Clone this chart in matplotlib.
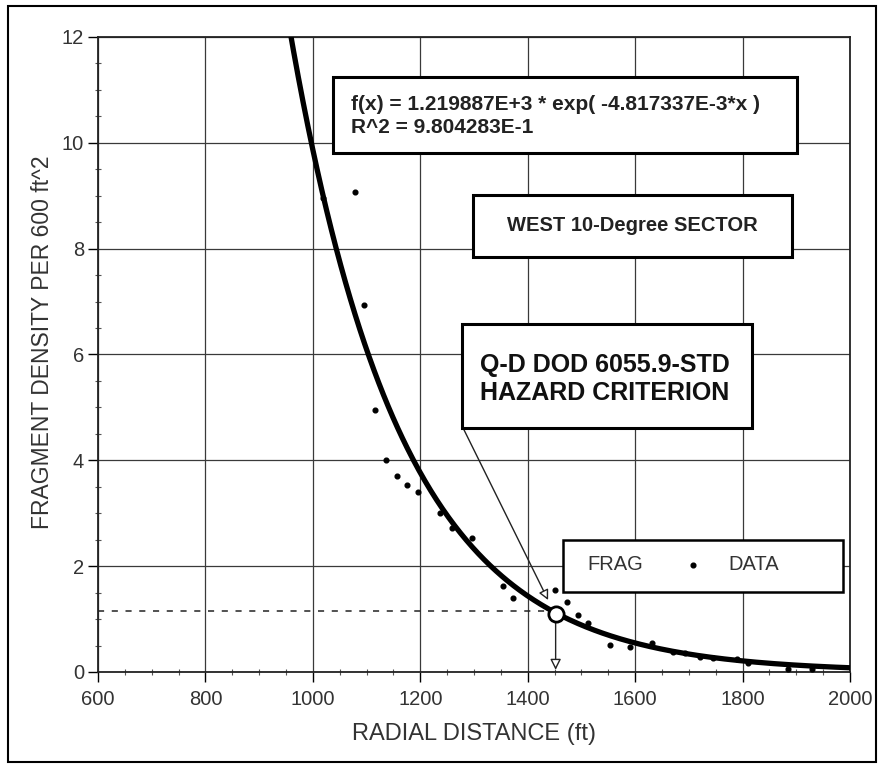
import numpy as np
import matplotlib
matplotlib.use("Agg")
import matplotlib.pyplot as plt
from matplotlib.patches import Rectangle

plt.rcParams['font.family'] = ['Liberation Sans', 'DejaVu Sans']

# ---- data ----
data_x = [1019, 1078, 1095, 1116, 1136, 1157, 1175, 1196, 1237, 1259, 1296,
          1354, 1373, 1451, 1473, 1494, 1512, 1553, 1590, 1631, 1671, 1693,
          1721, 1745, 1790, 1810, 1885, 1930]
data_y = [8.96, 9.07, 6.93, 4.95, 4.00, 3.70, 3.53, 3.40, 3.00, 2.72, 2.53,
          1.63, 1.40, 1.55, 1.32, 1.08, 0.93, 0.51, 0.47, 0.55, 0.38, 0.36,
          0.28, 0.26, 0.25, 0.17, 0.06, 0.05]

fit_a = 1.219887e3
fit_b = -4.817337e-3

hazard_x = 1452
hazard_y = 1.10
dash_y = 1.15

x_ticks = [600, 800, 1000, 1200, 1400, 1600, 1800, 2000]
y_ticks = [0, 2, 4, 6, 8, 10, 12]

fit_text = "f(x) = 1.219887E+3 * exp( -4.817337E-3*x )\nR^2 = 9.804283E-1"
sector_text = "WEST 10-Degree SECTOR"
hazard_text = "Q-D DOD 6055.9-STD\nHAZARD CRITERION"
legend_labels = ["FRAG", "DATA"]

# ---- figure ----
fig = plt.figure(figsize=(8.83, 7.70), dpi=100)
ax = fig.add_axes([0.111, 0.1273, 0.8516, 0.8247])

# figure border
fig.patches.append(Rectangle((0.009, 0.0104), 0.983, 0.9816, transform=fig.transFigure,
                             fill=False, ec='black', lw=1.5))

ax.set_xlim(600, 2000)
ax.set_ylim(0, 12)
ax.set_xticks(x_ticks)
ax.set_yticks(y_ticks)
ax.set_xticks(np.arange(600, 2001, 50), minor=True)
ax.set_yticks(np.arange(0, 12.01, 0.5), minor=True)
ax.grid(True, which='major', color='#3a3a3a', lw=0.9)
ax.tick_params(which='major', direction='out', length=7, width=1, labelsize=14.5,
               labelcolor='#333333')
ax.tick_params(axis='x', which='major', pad=6)
ax.tick_params(axis='y', which='major', pad=3)
ax.tick_params(which='minor', direction='inout', length=5, width=0.8, color='#555555')
for s in ax.spines.values():
    s.set_linewidth(1.3)
    s.set_color('#222222')

ax.set_xlabel("RADIAL DISTANCE (ft)", fontsize=17, color='#333333', labelpad=10)
ax.set_ylabel("FRAGMENT DENSITY PER 600 ft^2", fontsize=16.5, color='#333333')
ax.yaxis.set_label_coords(-0.058, 0.52)

# fitted curve
xc = np.linspace(900, 2000, 500)
ax.plot(xc, fit_a * np.exp(fit_b * xc), color='black', lw=3.8, zorder=4)

# data points
ax.plot(data_x, data_y, 'o', color='black', ms=3.4, ls='none', zorder=5)

# hazard criterion markers
ax.plot([600, hazard_x - 12], [dash_y, dash_y], color='#222222', lw=1.1,
        ls=(0, (4, 5)), zorder=3)
ax.annotate("", xy=(hazard_x, 0.04), xytext=(hazard_x, hazard_y),
            arrowprops=dict(arrowstyle='-|>', fc='white', ec='#222222', lw=1,
                            mutation_scale=16, shrinkA=0, shrinkB=0), zorder=3)
ax.plot([hazard_x], [hazard_y], 'o', ms=11, mfc='white', mec='black', mew=2, zorder=6)

# boxes (axes fraction)
def box(x0, y0, x1, y1, lw=2.2):
    ax.add_patch(Rectangle((x0, y0), x1 - x0, y1 - y0, transform=ax.transAxes,
                           fc='white', ec='black', lw=lw, zorder=7))

box(0.3125, 0.817, 0.9295, 0.937)
ax.text(0.336, 0.876, fit_text, transform=ax.transAxes, fontsize=15, fontweight='bold',
        color='#222222', va='center', ha='left', zorder=8, linespacing=1.25)

box(0.4987, 0.6535, 0.9229, 0.751)
ax.text(0.7108, 0.703, sector_text, transform=ax.transAxes, fontsize=14.5, fontweight='bold',
        color='#222222', va='center', ha='center', zorder=8)

box(0.484, 0.384, 0.8697, 0.548)
ax.text(0.508, 0.462, hazard_text, transform=ax.transAxes, fontsize=18, fontweight='bold',
        color='#111111', va='center', ha='left', zorder=8, linespacing=1.2)

# leader line from hazard box to the criterion point
ax.annotate("", xy=(1438, 1.36), xytext=(0.486, 0.383), textcoords='axes fraction',
            xycoords='data',
            arrowprops=dict(arrowstyle='-|>', fc='white', ec='#222222', lw=1,
                            mutation_scale=15, shrinkA=0, shrinkB=0), zorder=6)

# legend box (drawn manually)
box(0.6184, 0.126, 0.9907, 0.2079, lw=1.8)
ax.text(0.6503, 0.1685, legend_labels[0], transform=ax.transAxes, fontsize=14.5,
        color='#333333', va='center', ha='left', zorder=8)
ax.plot([0.791], [0.1685], 'o', color='black', ms=3.4, transform=ax.transAxes, zorder=8)
ax.text(0.8378, 0.1685, legend_labels[1], transform=ax.transAxes, fontsize=14.5,
        color='#333333', va='center', ha='left', zorder=8)

fig.savefig("out.png", dpi=100)
